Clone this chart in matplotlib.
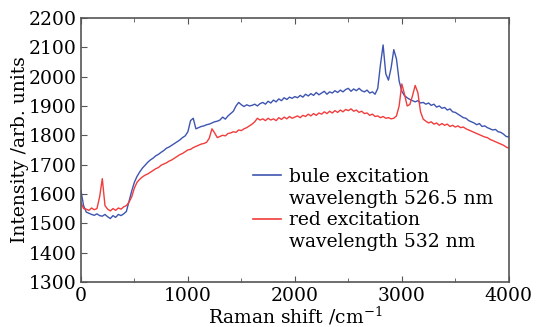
import numpy as np
import matplotlib.pyplot as plt
from matplotlib.lines import Line2D
from matplotlib.ticker import MultipleLocator

plt.rcParams['font.family'] = ['DejaVu Serif']
plt.rcParams['mathtext.fontset'] = 'dejavuserif'

# Raman shift grid, cm^-1
shift = np.arange(0, 4001, 25)

# blue excitation (526.5 nm)
blue = [
    1612, 1560, 1538, 1534, 1530, 1527, 1532, 1526,
    1524, 1530, 1522, 1516, 1526, 1520, 1530, 1526,
    1532, 1540, 1575, 1610, 1640, 1660, 1675, 1688,
    1698, 1708, 1716, 1722, 1730, 1735, 1742, 1748,
    1756, 1760, 1766, 1772, 1778, 1784, 1792, 1798,
    1812, 1850, 1858, 1822, 1826, 1830, 1832, 1836,
    1838, 1842, 1846, 1848, 1852, 1862, 1855, 1866,
    1874, 1882, 1900, 1912, 1904, 1898, 1904, 1900,
    1902, 1906, 1900, 1908, 1912, 1906, 1916, 1910,
    1920, 1914, 1924, 1918, 1928, 1922, 1930, 1926,
    1932, 1928, 1936, 1930, 1940, 1934, 1942, 1936,
    1946, 1938, 1944, 1950, 1940, 1948, 1944, 1952,
    1946, 1954, 1948, 1956, 1960, 1950, 1958, 1952,
    1960, 1952, 1948, 1954, 1944, 1948, 1940, 1960,
    2040, 2108, 2010, 1988, 2030, 2092, 2060, 1985,
    1950, 1935, 1928, 1922, 1918, 1914, 1918, 1910,
    1912, 1906, 1910, 1902, 1906, 1896, 1900, 1892,
    1895, 1886, 1890, 1880, 1878, 1872, 1866, 1860,
    1858, 1850, 1846, 1842, 1836, 1840, 1830, 1832,
    1826, 1822, 1818, 1820, 1812, 1810, 1804, 1796,
    1794,
]

# red excitation (532 nm)
red = [
    1570, 1550, 1548, 1544, 1552, 1546, 1550, 1590,
    1652, 1560, 1548, 1542, 1550, 1544, 1552, 1548,
    1556, 1560, 1572, 1590, 1620, 1640, 1650, 1658,
    1664, 1668, 1674, 1680, 1686, 1690, 1698, 1702,
    1706, 1712, 1716, 1722, 1728, 1734, 1738, 1744,
    1750, 1752, 1758, 1762, 1766, 1770, 1772, 1776,
    1790, 1822, 1808, 1792, 1796, 1800, 1798, 1806,
    1808, 1812, 1810, 1818, 1816, 1822, 1826, 1832,
    1838, 1846, 1858, 1852, 1856, 1850, 1858, 1852,
    1856, 1850, 1860, 1854, 1862, 1856, 1864, 1858,
    1862, 1866, 1860, 1868, 1864, 1872, 1866, 1874,
    1868, 1876, 1872, 1880, 1874, 1882, 1876, 1884,
    1878, 1886, 1880, 1888, 1884, 1890, 1882, 1886,
    1878, 1882, 1874, 1876, 1868, 1872, 1864, 1866,
    1860, 1864, 1858, 1860, 1856, 1858, 1866, 1900,
    1975, 1940, 1900, 1905, 1935, 1970, 1945, 1880,
    1855, 1848, 1842, 1846, 1838, 1842, 1834, 1840,
    1834, 1838, 1830, 1834, 1828, 1832, 1826, 1828,
    1822, 1818, 1814, 1810, 1806, 1802, 1798, 1794,
    1792, 1786, 1782, 1778, 1774, 1770, 1766, 1760,
    1756,
]

labels = ['bule excitation', 'wavelength 526.5 nm',
          'red excitation', 'wavelength 532 nm']
blue_c = '#3d55b0'
red_c = '#f23c3c'

fig = plt.figure(figsize=(5.43, 3.27), dpi=100)
ax = fig.add_axes([0.149, 0.138, 0.788, 0.807])

ax.plot(shift, blue, color=blue_c, lw=1.0)
ax.plot(shift, red, color=red_c, lw=1.0)

ax.set_xlim(0, 4000)
ax.set_ylim(1300, 2200)
ax.xaxis.set_major_locator(MultipleLocator(1000))
ax.xaxis.set_minor_locator(MultipleLocator(500))
ax.yaxis.set_major_locator(MultipleLocator(100))
ax.tick_params(which='both', direction='in', top=True, labelsize=13.5,
               color='#555555')
ax.tick_params(axis='x', pad=4)
ax.tick_params(axis='y', pad=3)
ax.tick_params(which='major', length=4)
ax.tick_params(which='minor', length=3)
for s in ax.spines.values():
    s.set_color('#555555')
    s.set_linewidth(1.2)

ax.set_xlabel('Raman shift /cm$^{-1}$', fontsize=13.5, labelpad=0)
ax.set_ylabel('Intensity /arb. units', fontsize=13.5, labelpad=0)

handles = [Line2D([], [], color=blue_c, lw=1.2),
           Line2D([], [], color='none'),
           Line2D([], [], color=red_c, lw=1.2),
           Line2D([], [], color='none')]
ax.legend(handles, labels, loc='upper left', bbox_to_anchor=(0.385, 0.46),
          frameon=False, fontsize=13.5, handlelength=1.5, handletextpad=0.4,
          labelspacing=0.2, borderaxespad=0)

fig.savefig('out.png', dpi=100)
